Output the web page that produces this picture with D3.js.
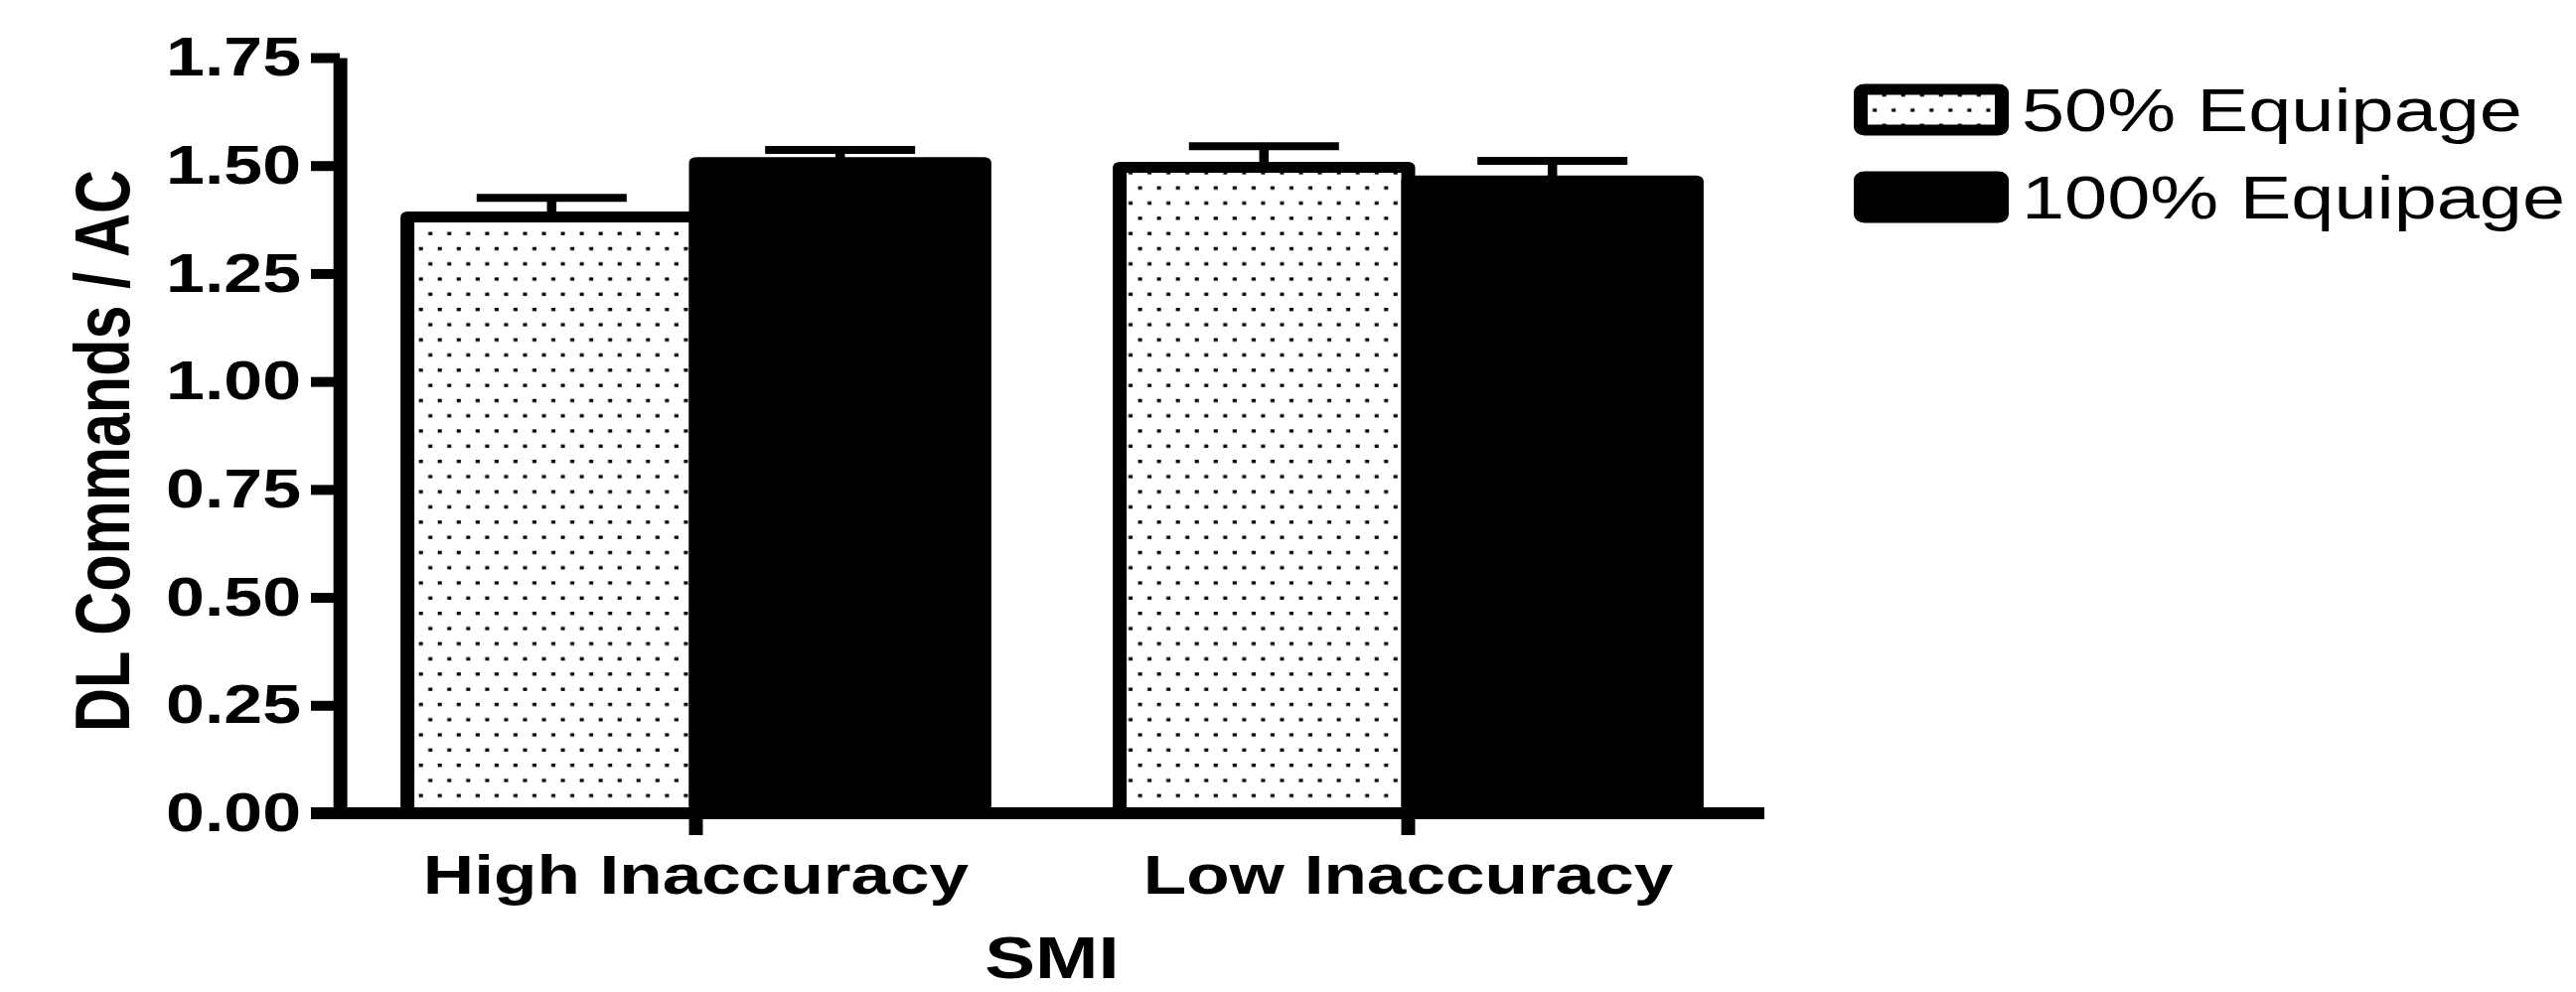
<!DOCTYPE html>
<html lang="en">
<head>
    <meta charset="UTF-8">
    <script src="https://d3js.org/d3.v7.min.js"></script>
    <title>DL Commands / AC by SMI</title>
    <style>
        body{ margin:0; background:#fff; }
        text{ font-family:"Liberation Sans", Arial, sans-serif; fill:#000; }
    </style>
</head>
<body>
    <script>
        var categories = ["High Inaccuracy", "Low Inaccuracy"];
        var series = ["50% Equipage", "100% Equipage"];
        var means50 = [1.381, 1.496];
        var means100 = [1.507, 1.464];
        var err50 = [0.044, 0.049];
        var err100 = [0.029, 0.047];
        var yTicks = [0, 0.25, 0.5, 0.75, 1.0, 1.25, 1.5, 1.75];

        var width = 2593, height = 999;
        // the original picture is stretched sideways, so everything is drawn in a scaled group
        var sx = 1.27;

        var plotLeft = 342/sx, plotRight = 1776/sx, plotTop = 58, plotBottom = 819;

        var svg = d3.select("body").append("svg").attr("width", width).attr("height", height)
                    .style("background", "#fff");

        var defs = svg.append("defs");
        var pat = defs.append("pattern").attr("id", "dots").attr("patternUnits", "userSpaceOnUse")
                      .attr("width", 15).attr("height", 30.6);
        pat.append("rect").attr("width", 15).attr("height", 30.6).style("fill", "#fff");
        pat.append("rect").attr("x", 2).attr("y", 4).attr("width", 3.2).attr("height", 3.3).style("fill", "#000");
        pat.append("rect").attr("x", 9.5).attr("y", 19.3).attr("width", 3.2).attr("height", 3.3).style("fill", "#000");

        var g = svg.append("g").attr("transform", "scale(" + sx + ",1)");

        var x0 = d3.scaleBand().domain(categories).range([plotLeft, plotRight]).paddingInner(0.19).paddingOuter(0.095);
        var x1 = d3.scaleBand().domain(series).range([0, x0.bandwidth()]);
        var y = d3.scaleLinear().domain([0, 1.75]).range([plotBottom, plotTop]);

        var rows = [];
        categories.forEach(function(c, i){
            rows.push({cat:c, s:series[0], v:means50[i], e:err50[i]});
            rows.push({cat:c, s:series[1], v:means100[i], e:err100[i]});
        });

        // error bars (upper only)
        var eb = g.selectAll(".err").data(rows).enter().append("g").attr("class", "err");
        eb.append("line")
          .attr("x1", function(d){ return x0(d.cat) + x1(d.s) + x1.bandwidth()/2; })
          .attr("x2", function(d){ return x0(d.cat) + x1(d.s) + x1.bandwidth()/2; })
          .attr("y1", function(d){ return y(d.v); })
          .attr("y2", function(d){ return y(d.v + d.e); })
          .style("stroke", "#000").style("stroke-width", 7.5);
        eb.append("line")
          .attr("x1", function(d){ return x0(d.cat) + x1(d.s) + x1.bandwidth()*0.24; })
          .attr("x2", function(d){ return x0(d.cat) + x1(d.s) + x1.bandwidth()*0.76; })
          .attr("y1", function(d){ return y(d.v + d.e); })
          .attr("y2", function(d){ return y(d.v + d.e); })
          .style("stroke", "#000").style("stroke-width", 8);

        // bars
        g.selectAll(".bar").data(rows).enter().append("rect").attr("class", "bar")
          .attr("x", function(d){ return x0(d.cat) + x1(d.s); })
          .attr("width", x1.bandwidth())
          .attr("y", function(d){ return y(d.v); })
          .attr("height", function(d){ return y(0) - y(d.v); })
          .style("fill", function(d){ return d.s === series[0] ? "url(#dots)" : "#000"; })
          .style("stroke", "#000").style("stroke-width", 11).style("stroke-linejoin", "round");

        // y axis
        var yTickLen = 29/sx;
        var yAxis = d3.axisLeft(y).tickValues(yTicks).tickFormat(d3.format(".2f"))
                      .tickSize(yTickLen).tickSizeOuter(0).tickPadding(10/sx);
        var ya = g.append("g").attr("transform", "translate(" + plotLeft + ",0)").call(yAxis);
        ya.select(".domain").style("stroke", "#000").style("stroke-width", 11);
        ya.selectAll(".tick line").style("stroke", "#000").style("stroke-width", 10);
        ya.selectAll(".tick text").style("font-size", "55px").style("font-weight", "bold")
          .style("font-family", "'Liberation Sans', Arial, sans-serif");

        // x axis
        g.append("line").attr("x1", plotLeft - yTickLen).attr("x2", plotRight).attr("y1", plotBottom).attr("y2", plotBottom)
          .style("stroke", "#000").style("stroke-width", 12);
        var xAxis = d3.axisBottom(x0).tickSize(22).tickSizeOuter(0);
        var xa = g.append("g").attr("transform", "translate(0," + plotBottom + ")").call(xAxis);
        xa.select(".domain").remove();
        xa.selectAll(".tick line").style("stroke", "#000").style("stroke-width", 11);
        xa.selectAll(".tick text").attr("y", 81).attr("dy", 0)
          .style("font-size", "56px").style("font-weight", "bold")
          .style("font-family", "'Liberation Sans', Arial, sans-serif");

        // axis titles
        g.append("text").attr("x", (plotLeft + plotRight)/2).attr("y", 985).attr("text-anchor", "middle")
          .style("font-size", "60px").style("font-weight", "bold").text("SMI");
        g.append("text").attr("transform", "translate(102,454) rotate(-90)").attr("text-anchor", "middle")
          .style("font-size", "61px").style("font-weight", "bold").text("DL Commands / AC");

        // legend
        var lg = g.selectAll(".leg").data(series).enter().append("g").attr("class", "leg")
                  .attr("transform", function(d, i){ return "translate(" + (1873/sx) + "," + (90 + i*88) + ")"; });
        lg.append("rect").attr("width", 142/sx).attr("height", 41).attr("rx", 3)
          .style("fill", function(d, i){ return i === 0 ? "url(#dots)" : "#000"; })
          .style("stroke", "#000").style("stroke-width", 11).style("stroke-linejoin", "round");
        lg.append("text").attr("x", (2035 - 1873)/sx).attr("y", 42)
          .style("font-size", "61px").text(function(d){ return d; });
    </script>
</body>
</html>
